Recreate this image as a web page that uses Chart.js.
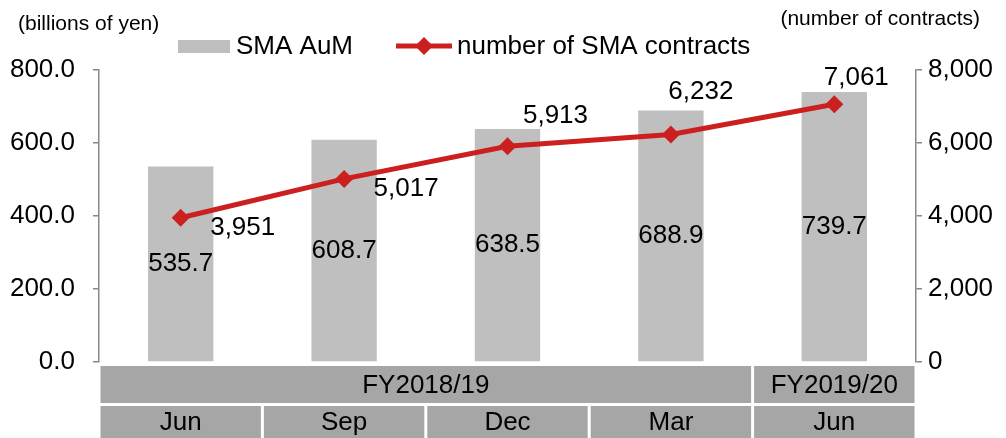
<!DOCTYPE html>
<html>
<head>
<meta charset="utf-8">
<script src="https://cdn.jsdelivr.net/npm/chart.js@4/dist/chart.umd.min.js"></script>
<style>
  html, body { margin: 0; padding: 0; background: #fff; }
  #wrap { width: 1006px; height: 438px; }
</style>
</head>
<body>
<div id="wrap"><canvas id="myChart" width="1006" height="438"></canvas></div>
<script>
// data
const months = ['Jun', 'Sep', 'Dec', 'Mar', 'Jun'];
const fiscalYears = ['FY2018/19', 'FY2019/20'];
const monthsPerYear = [4, 1];
const aum = [535.7, 608.7, 638.5, 688.9, 739.7];
const contracts = [3951, 5017, 5913, 6232, 7061];
const leftTicks = [0, 200, 400, 600, 800];
const rightTicks = [0, 2000, 4000, 6000, 8000];

// where each contract label sits relative to its point
const lineLabelShift = [[62, 10], [62, 10], [48, -30], [30, -43], [22, -26]];

const FONT = '"Liberation Sans", Arial, sans-serif';
const BAR_COLOR = '#bfbfbf';
const LINE_COLOR = '#cc2020';
const BAND_COLOR = '#a6a6a6';

const extras = {
    id: 'extras',
    afterDatasetsDraw(chart) {
        const c = chart.ctx;
        const x = chart.scales.x;
        const area = chart.chartArea;
        const step = x.width / months.length;
        c.save();
        c.fillStyle = '#000';
        c.font = '26px ' + FONT;
        c.textAlign = 'center';
        c.textBaseline = 'middle';

        // bar values, centred in the bar (dataset 1 is the bars)
        chart.getDatasetMeta(1).data.forEach((bar, i) => {
            c.fillText(aum[i].toFixed(1), bar.x, (bar.y + bar.base) / 2);
        });
        // contract values (dataset 0 is the line)
        chart.getDatasetMeta(0).data.forEach((pt, i) => {
            const s = lineLabelShift[i];
            c.fillText(contracts[i].toLocaleString('en-US'), pt.x + s[0], pt.y + s[1]);
        });

        // category bands under the plot
        const row1 = area.bottom + 4, row1h = 37;
        const row2 = row1 + row1h + 3, row2h = 438 - row2;
        let start = 0;
        fiscalYears.forEach((fy, k) => {
            const l = x.getPixelForTick(start) - step / 2;
            const r = x.getPixelForTick(start + monthsPerYear[k] - 1) + step / 2;
            c.fillStyle = BAND_COLOR;
            c.fillRect(l + 1.5, row1, r - l - 3, row1h);
            c.fillStyle = '#000';
            c.fillText(fy, (l + r) / 2, row1 + row1h / 2 + 1);
            start += monthsPerYear[k];
        });
        months.forEach((m, i) => {
            const cx = x.getPixelForTick(i);
            c.fillStyle = BAND_COLOR;
            c.fillRect(cx - step / 2 + 1.5, row2, step - 3, row2h);
            c.fillStyle = '#000';
            c.fillText(m, cx, row2 + row2h / 2 + 1);
        });

        // legend
        c.fillStyle = BAR_COLOR;
        c.fillRect(178, 40, 52, 13);
        c.fillStyle = '#000';
        c.textAlign = 'left';
        c.fillText('SMA AuM', 236, 47);
        c.strokeStyle = LINE_COLOR;
        c.lineWidth = 5;
        c.beginPath();
        c.moveTo(396, 46);
        c.lineTo(452, 46);
        c.stroke();
        c.fillStyle = LINE_COLOR;
        c.beginPath();
        c.moveTo(424, 37); c.lineTo(433, 46); c.lineTo(424, 55); c.lineTo(415, 46);
        c.closePath();
        c.fill();
        c.fillStyle = '#000';
        c.fillText('number of SMA contracts', 457, 47);

        // axis titles
        c.font = '21px ' + FONT;
        c.fillText('(billions of yen)', 18, 24);
        c.textAlign = 'right';
        c.fillText('(number of contracts)', 980, 19);
        c.restore();
    }
};

new Chart(document.getElementById('myChart'), {
    data: {
        labels: months,
        datasets: [{
            type: 'line',
            label: 'number of SMA contracts',
            data: contracts,
            yAxisID: 'y1',
            borderColor: LINE_COLOR,
            backgroundColor: LINE_COLOR,
            borderWidth: 5,
            pointStyle: 'rectRot',
            pointRadius: 9,
            pointBorderWidth: 0,
            tension: 0,
            order: 0
        }, {
            type: 'bar',
            label: 'SMA AuM',
            data: aum,
            yAxisID: 'y',
            backgroundColor: BAR_COLOR,
            barPercentage: 0.4,
            categoryPercentage: 1.0,
            order: 1
        }]
    },
    options: {
        responsive: false,
        animation: false,
        layout: { padding: { top: 70, bottom: 76, left: 0, right: 0 } },
        plugins: { legend: { display: false }, tooltip: { enabled: false } },
        scales: {
            x: { display: false },
            y: {
                position: 'left',
                min: 0, max: 800,
                afterBuildTicks: (s) => { s.ticks = leftTicks.map(v => ({ value: v })); },
                afterFit: (s) => { s.width = 99; },
                ticks: {
                    callback: (v) => Number(v).toFixed(1),
                    font: { family: FONT, size: 26 },
                    color: '#000',
                    padding: 18
                },
                grid: { drawOnChartArea: false, drawTicks: true, tickLength: 6, color: '#888', lineWidth: 1.5 },
                border: { display: true, color: '#888', width: 1.5 }
            },
            y1: {
                position: 'right',
                min: 0, max: 8000,
                afterBuildTicks: (s) => { s.ticks = rightTicks.map(v => ({ value: v })); },
                afterFit: (s) => { s.width = 90; },
                ticks: {
                    callback: (v) => Number(v).toLocaleString('en-US'),
                    font: { family: FONT, size: 26 },
                    color: '#000',
                    padding: 6
                },
                grid: { drawOnChartArea: false, drawTicks: true, tickLength: 6, color: '#888', lineWidth: 1.5 },
                border: { display: true, color: '#888', width: 1.5 }
            }
        }
    },
    plugins: [extras]
});
</script>
</body>
</html>
